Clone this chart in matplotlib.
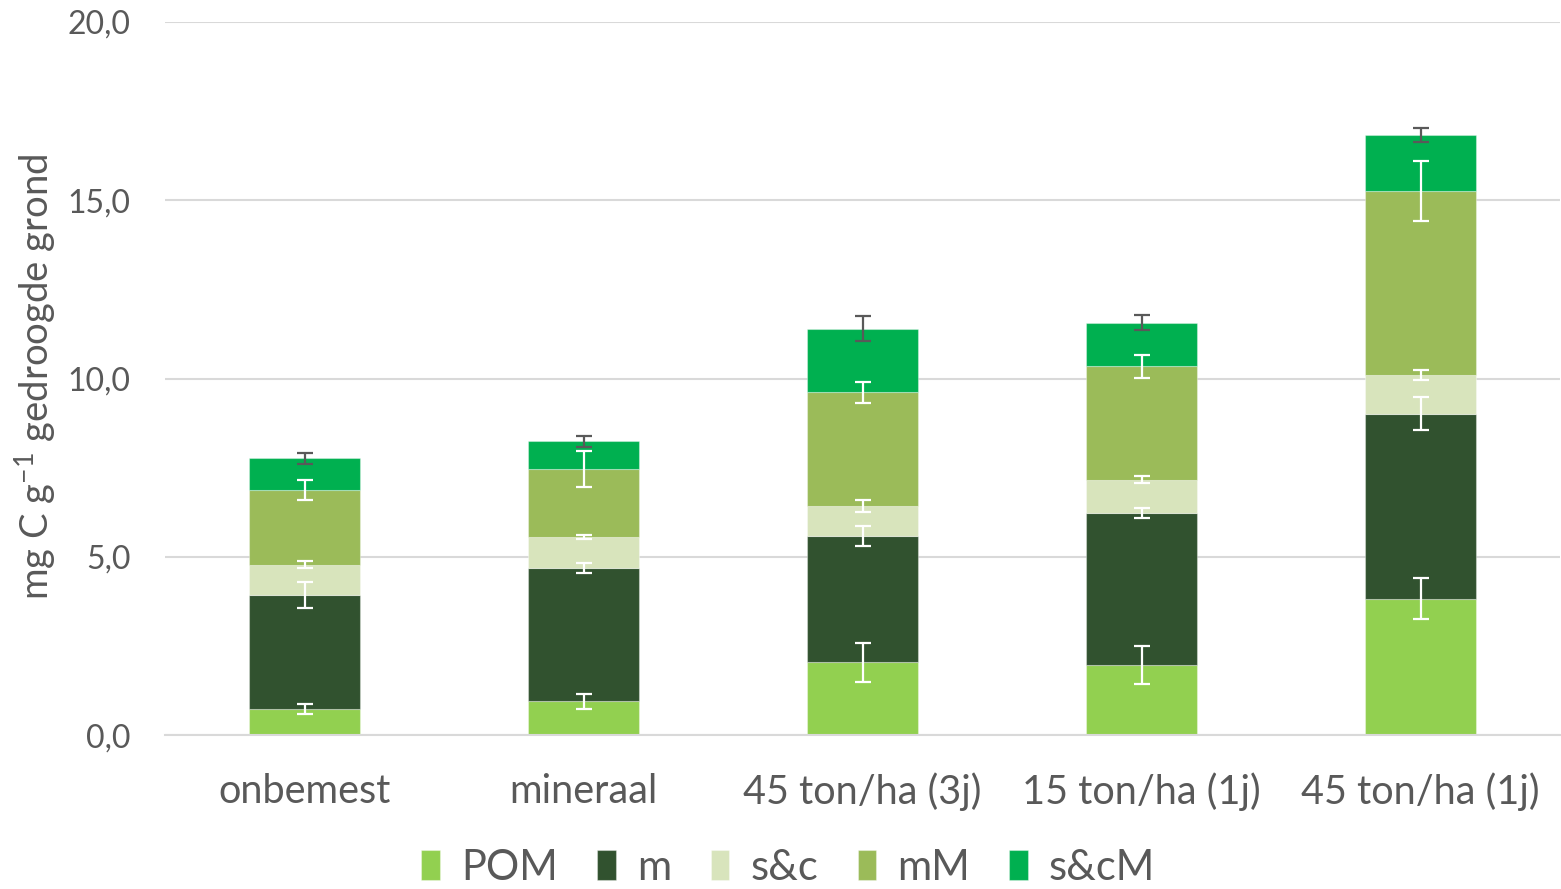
import matplotlib.pyplot as plt
import numpy as np
from matplotlib.ticker import FuncFormatter, MultipleLocator

plt.rcParams["font.family"] = ["Lato", "DejaVu Sans"]
plt.rcParams["text.color"] = "#595959"

treatments = ["onbemest", "mineraal", "45 ton/ha (3j)", "15 ton/ha (1j)", "45 ton/ha (1j)"]
fractions = ["POM", "m", "s&c", "mM", "s&cM"]

# carbon per fraction (mg C / g dry soil), stacked bottom to top
pom = [0.73, 0.95, 2.05, 1.97, 3.83]
m = [3.21, 3.74, 3.54, 4.26, 5.19]
sc = [0.84, 0.87, 0.84, 0.94, 1.09]
mM = [2.09, 1.90, 3.19, 3.17, 5.14]
scM = [0.90, 0.78, 1.78, 1.23, 1.59]

pom_err = [0.14, 0.20, 0.55, 0.52, 0.57]
m_err = [0.36, 0.15, 0.27, 0.14, 0.46]
sc_err = [0.10, 0.06, 0.17, 0.10, 0.14]
mM_err = [0.28, 0.50, 0.29, 0.32, 0.84]
scM_err = [0.15, 0.15, 0.35, 0.21, 0.20]

colors = ["#92D050", "#31522F", "#D8E4BC", "#9BBB59", "#00B050"]
err_colors = ["white", "white", "white", "white", "#595959"]

values = [pom, m, sc, mM, scM]
errors = [pom_err, m_err, sc_err, mM_err, scM_err]

fig = plt.figure(figsize=(15.61, 8.89), dpi=100)
ax = fig.add_axes([0.1057, 0.1729, 0.8937, 0.8024])

x = np.arange(len(treatments))
bottom = np.zeros(len(treatments))
for name, vals, errs, col, ecol in zip(fractions, values, errors, colors, err_colors):
    vals = np.array(vals)
    ax.bar(x, vals, width=0.4, bottom=bottom, color=col, label=name,
           edgecolor=(1, 1, 1, 0.35), linewidth=0.8, zorder=2)
    top = bottom + vals
    ax.errorbar(x, top, yerr=errs, fmt="none", ecolor=ecol, elinewidth=1.6,
                capsize=5.5, capthick=1.6, zorder=3)
    bottom = top

ax.set_xlim(-0.5, len(treatments) - 0.5)
ax.set_ylim(0, 20)
ax.yaxis.set_major_locator(MultipleLocator(5))
ax.yaxis.set_major_formatter(FuncFormatter(lambda v, _: f"{v:.1f}".replace(".", ",")))
ax.grid(axis="y", color="#D9D9D9", linewidth=1.5, zorder=0)
ax.set_axisbelow(True)
for side in ["top", "right", "left"]:
    ax.spines[side].set_visible(False)
ax.spines["bottom"].set_color("#D9D9D9")
ax.spines["bottom"].set_linewidth(1.5)

ax.set_xticks(x)
ax.set_xticklabels(treatments, fontsize=28.5, color="#595959")
ax.tick_params(axis="x", length=0, pad=27)
ax.tick_params(axis="y", length=0, pad=25, labelsize=23, labelcolor="#595959")

ax.set_ylabel(r"mg C g$\mathregular{^{-1}}$ gedroogde grond", fontsize=27.5, color="#595959")
ax.yaxis.set_label_coords(-0.077, 0.502)

fig.legend(loc="center", bbox_to_anchor=(0.505, 0.024), ncol=5, frameon=False,
           fontsize=30, handlelength=0.45, handleheight=0.72, handletextpad=0.5,
           columnspacing=0.95, labelcolor="#595959")

fig.savefig("out.png", dpi=100)
